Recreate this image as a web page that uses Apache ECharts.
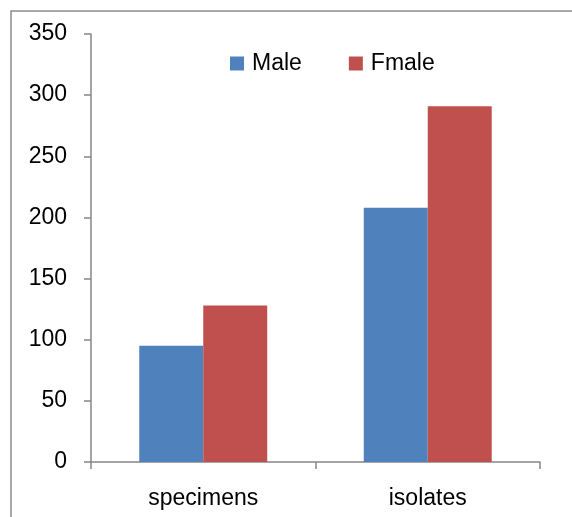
<!DOCTYPE html>
<html>
<head>
<meta charset="utf-8">
<script src="https://cdn.jsdelivr.net/npm/echarts@6/dist/echarts.min.js"></script>
<style>
  html, body { margin: 0; padding: 0; background: #fff; }
  #chart { width: 572px; height: 517px; }
</style>
</head>
<body>
<div id="chart"></div>
<script>
// Counts by sample type and sex
const categories = ['specimens', 'isolates'];
const maleValues = [95, 208];
const femaleValues = [128, 291];
const seriesNames = ['Male', 'Fmale'];

const FONT = 'Liberation Sans';
const AXIS_GREY = '#868686';

const chart = echarts.init(document.getElementById('chart'), null, { renderer: 'canvas' });

chart.setOption({
  animation: false,
  backgroundColor: '#ffffff',
  // outer chart frame (left and top edges show, the rest runs off the canvas)
  graphic: [{
    type: 'rect',
    left: 8.5, top: 8.5,
    shape: { width: 700, height: 700 },
    style: { fill: 'none', stroke: '#8c8c8c', lineWidth: 1.5 },
    silent: true,
    z: -1
  }],
  legend: {
    data: seriesNames,
    top: 52,
    left: 230,
    padding: 0,
    itemWidth: 14,
    itemHeight: 14,
    itemGap: 47,
    icon: 'rect',
    textStyle: { fontFamily: FONT, fontSize: 23, color: '#000', padding: [0, 0, 0, 3] }
  },
  grid: { left: 91, right: 32, top: 34, bottom: 55, containLabel: false },
  xAxis: {
    type: 'category',
    data: categories,
    boundaryGap: true,
    axisLine: { lineStyle: { color: AXIS_GREY, width: 1.5 } },
    axisTick: { show: true, length: 7, inside: false, alignWithLabel: false, lineStyle: { color: AXIS_GREY, width: 1.5 } },
    axisLabel: { margin: 25, fontFamily: FONT, fontSize: 23, color: '#000' },
    splitLine: { show: false }
  },
  yAxis: {
    type: 'value',
    min: 0,
    max: 350,
    interval: 50,
    axisLine: { show: true, lineStyle: { color: AXIS_GREY, width: 1.5 } },
    axisTick: { show: true, length: 7, lineStyle: { color: AXIS_GREY, width: 1.5 } },
    axisLabel: { margin: 24, fontFamily: FONT, fontSize: 23, color: '#000' },
    splitLine: { show: false }
  },
  series: [
    {
      name: seriesNames[0],
      type: 'bar',
      data: maleValues,
      barGap: '0%',
      barCategoryGap: '43%',
      itemStyle: { color: '#4F81BD' }
    },
    {
      name: seriesNames[1],
      type: 'bar',
      data: femaleValues,
      barGap: '0%',
      barCategoryGap: '43%',
      itemStyle: { color: '#C0504D' }
    }
  ]
});
</script>
</body>
</html>
